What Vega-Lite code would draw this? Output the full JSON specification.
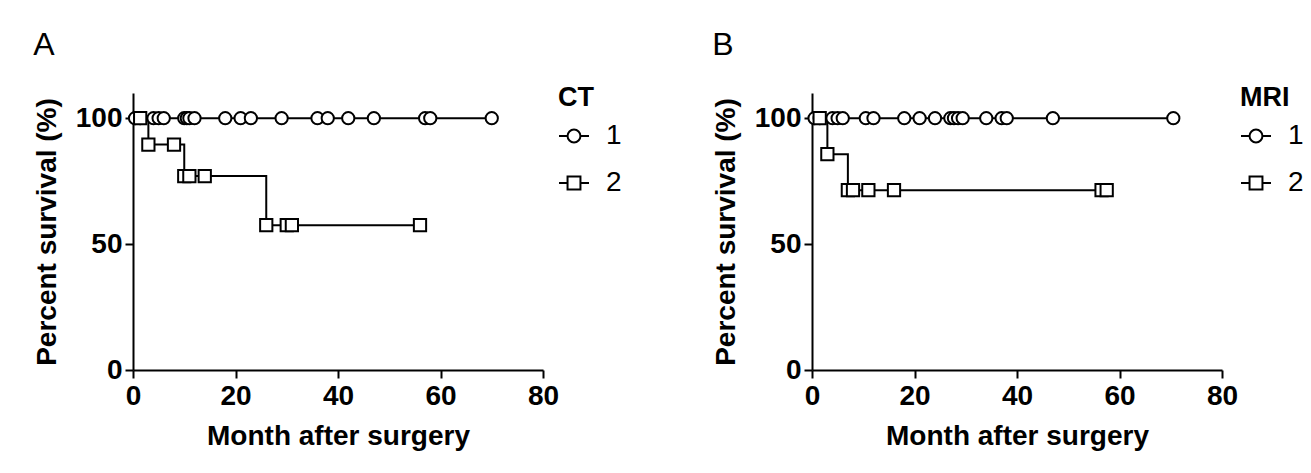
{
  "$schema": "https://vega.github.io/schema/vega-lite/v6.json",
  "padding": {"left": 33, "top": 29, "right": 5, "bottom": 5},
  "background": "white",
  "config": {
    "view": {"stroke": null},
    "axis": {
      "grid": false,
      "domainColor": "black", "domainWidth": 2,
      "tickColor": "black", "tickWidth": 2, "tickSize": 8,
      "labelFont": "Liberation Sans", "labelFontSize": 28, "labelFontWeight": "bold", "labelColor": "black",
      "titleFont": "Liberation Sans", "titleFontSize": 28, "titleFontWeight": "bold", "titleColor": "black"
    },
    "title": {"font": "Liberation Sans", "fontSize": 32, "fontWeight": "normal", "color": "black", "anchor": "start", "frame": "bounds", "offset": 23},
    "legend": {
      "orient": "none", "legendY": -8,
      "titleFont": "Liberation Sans", "titleFontSize": 27, "titleFontWeight": "bold", "titleColor": "black", "titlePadding": 8,
      "labelFont": "Liberation Sans", "labelFontSize": 28, "labelColor": "black", "labelOffset": 16,
      "symbolSize": 900, "symbolStrokeWidth": 2, "symbolStrokeColor": "black", "symbolFillColor": "white", "symbolOpacity": 1,
      "rowPadding": 17
    }
  },
  "spacing": 90,
  "resolve": {"scale": {"shape": "independent"}, "legend": {"shape": "independent"}},
  "hconcat": [
    {
      "title": {"text": "A"},
      "width": 410, "height": 277,
      "data": {"values": [
        {"month": 0.4, "surv": 100, "group": "1"},
        {"month": 1.4, "surv": 100, "group": "1"},
        {"month": 4, "surv": 100, "group": "1"},
        {"month": 5, "surv": 100, "group": "1"},
        {"month": 6, "surv": 100, "group": "1"},
        {"month": 10, "surv": 100, "group": "1"},
        {"month": 10.5, "surv": 100, "group": "1"},
        {"month": 11, "surv": 100, "group": "1"},
        {"month": 12, "surv": 100, "group": "1"},
        {"month": 18, "surv": 100, "group": "1"},
        {"month": 21, "surv": 100, "group": "1"},
        {"month": 23, "surv": 100, "group": "1"},
        {"month": 29, "surv": 100, "group": "1"},
        {"month": 36, "surv": 100, "group": "1"},
        {"month": 38, "surv": 100, "group": "1"},
        {"month": 42, "surv": 100, "group": "1"},
        {"month": 47, "surv": 100, "group": "1"},
        {"month": 57, "surv": 100, "group": "1"},
        {"month": 58, "surv": 100, "group": "1"},
        {"month": 70, "surv": 100, "group": "1"},
        {"month": 1.4, "surv": 100, "group": "2"},
        {"month": 3, "surv": 89.5, "group": "2"},
        {"month": 8, "surv": 89.5, "group": "2"},
        {"month": 10, "surv": 77, "group": "2"},
        {"month": 11, "surv": 77, "group": "2"},
        {"month": 14, "surv": 77, "group": "2"},
        {"month": 26, "surv": 57.5, "group": "2"},
        {"month": 30, "surv": 57.5, "group": "2"},
        {"month": 31, "surv": 57.5, "group": "2"},
        {"month": 56, "surv": 57.5, "group": "2"}
      ]},
      "encoding": {
        "x": {"field": "month", "type": "quantitative", "scale": {"domain": [0, 80], "nice": false}, "axis": {"values": [0, 20, 40, 60, 80], "title": "Month after surgery", "labelFlush": false, "labelPadding": 4, "titlePadding": 12}},
        "y": {"field": "surv", "type": "quantitative", "scale": {"domain": [0, 110], "nice": false}, "axis": {"values": [0, 50, 100], "title": "Percent survival (%)", "labelPadding": 3, "titlePadding": 14}}
      },
      "layer": [
        {"mark": {"type": "line", "interpolate": "step-after", "color": "black", "strokeWidth": 2}, "encoding": {"detail": {"field": "group"}}},
        {"mark": {"type": "point", "filled": true, "fill": "white", "stroke": "black", "strokeWidth": 2, "size": 150, "opacity": 1},
         "encoding": {"shape": {"field": "group", "type": "nominal", "scale": {"domain": ["1", "2"], "range": ["circle", "square"]}, "legend": null}}},
        {"mark": {"type": "point", "filled": false, "stroke": "black", "opacity": 0},
         "encoding": {"shape": {"field": "group", "type": "nominal",
           "scale": {"domain": ["1", "2"], "range": ["M-1,0H-0.43M0.43,0H1M0.43,0A0.43,0.43,0,1,1,-0.43,0A0.43,0.43,0,1,1,0.43,0Z", "M-1,0H-0.43M0.43,0H1M-0.43,-0.43H0.43V0.43H-0.43Z"]},
           "legend": {"title": "CT", "legendX": 425}}}}
      ],
      "resolve": {"scale": {"shape": "independent"}}
    },
    {
      "title": {"text": "B"},
      "width": 410, "height": 277,
      "data": {"values": [
        {"month": 0.5, "surv": 100, "group": "1"},
        {"month": 1.5, "surv": 100, "group": "1"},
        {"month": 4, "surv": 100, "group": "1"},
        {"month": 5, "surv": 100, "group": "1"},
        {"month": 6, "surv": 100, "group": "1"},
        {"month": 10.5, "surv": 100, "group": "1"},
        {"month": 12, "surv": 100, "group": "1"},
        {"month": 18, "surv": 100, "group": "1"},
        {"month": 21, "surv": 100, "group": "1"},
        {"month": 24, "surv": 100, "group": "1"},
        {"month": 27, "surv": 100, "group": "1"},
        {"month": 27.7, "surv": 100, "group": "1"},
        {"month": 28.5, "surv": 100, "group": "1"},
        {"month": 29.4, "surv": 100, "group": "1"},
        {"month": 34, "surv": 100, "group": "1"},
        {"month": 37, "surv": 100, "group": "1"},
        {"month": 38, "surv": 100, "group": "1"},
        {"month": 47, "surv": 100, "group": "1"},
        {"month": 70.5, "surv": 100, "group": "1"},
        {"month": 1.5, "surv": 100, "group": "2"},
        {"month": 3, "surv": 85.7, "group": "2"},
        {"month": 7, "surv": 71.4, "group": "2"},
        {"month": 8, "surv": 71.4, "group": "2"},
        {"month": 11, "surv": 71.4, "group": "2"},
        {"month": 16, "surv": 71.4, "group": "2"},
        {"month": 56.5, "surv": 71.4, "group": "2"},
        {"month": 57.5, "surv": 71.4, "group": "2"}
      ]},
      "encoding": {
        "x": {"field": "month", "type": "quantitative", "scale": {"domain": [0, 80], "nice": false}, "axis": {"values": [0, 20, 40, 60, 80], "title": "Month after surgery", "labelFlush": false, "labelPadding": 4, "titlePadding": 12}},
        "y": {"field": "surv", "type": "quantitative", "scale": {"domain": [0, 110], "nice": false}, "axis": {"values": [0, 50, 100], "title": "Percent survival (%)", "labelPadding": 3, "titlePadding": 14}}
      },
      "layer": [
        {"mark": {"type": "line", "interpolate": "step-after", "color": "black", "strokeWidth": 2}, "encoding": {"detail": {"field": "group"}}},
        {"mark": {"type": "point", "filled": true, "fill": "white", "stroke": "black", "strokeWidth": 2, "size": 150, "opacity": 1},
         "encoding": {"shape": {"field": "group", "type": "nominal", "scale": {"domain": ["1", "2"], "range": ["circle", "square"]}, "legend": null}}},
        {"mark": {"type": "point", "filled": false, "stroke": "black", "opacity": 0},
         "encoding": {"shape": {"field": "group", "type": "nominal",
           "scale": {"domain": ["1", "2"], "range": ["M-1,0H-0.43M0.43,0H1M0.43,0A0.43,0.43,0,1,1,-0.43,0A0.43,0.43,0,1,1,0.43,0Z", "M-1,0H-0.43M0.43,0H1M-0.43,-0.43H0.43V0.43H-0.43Z"]},
           "legend": {"title": "MRI", "legendX": 428}}}}
      ],
      "resolve": {"scale": {"shape": "independent"}}
    }
  ]
}
